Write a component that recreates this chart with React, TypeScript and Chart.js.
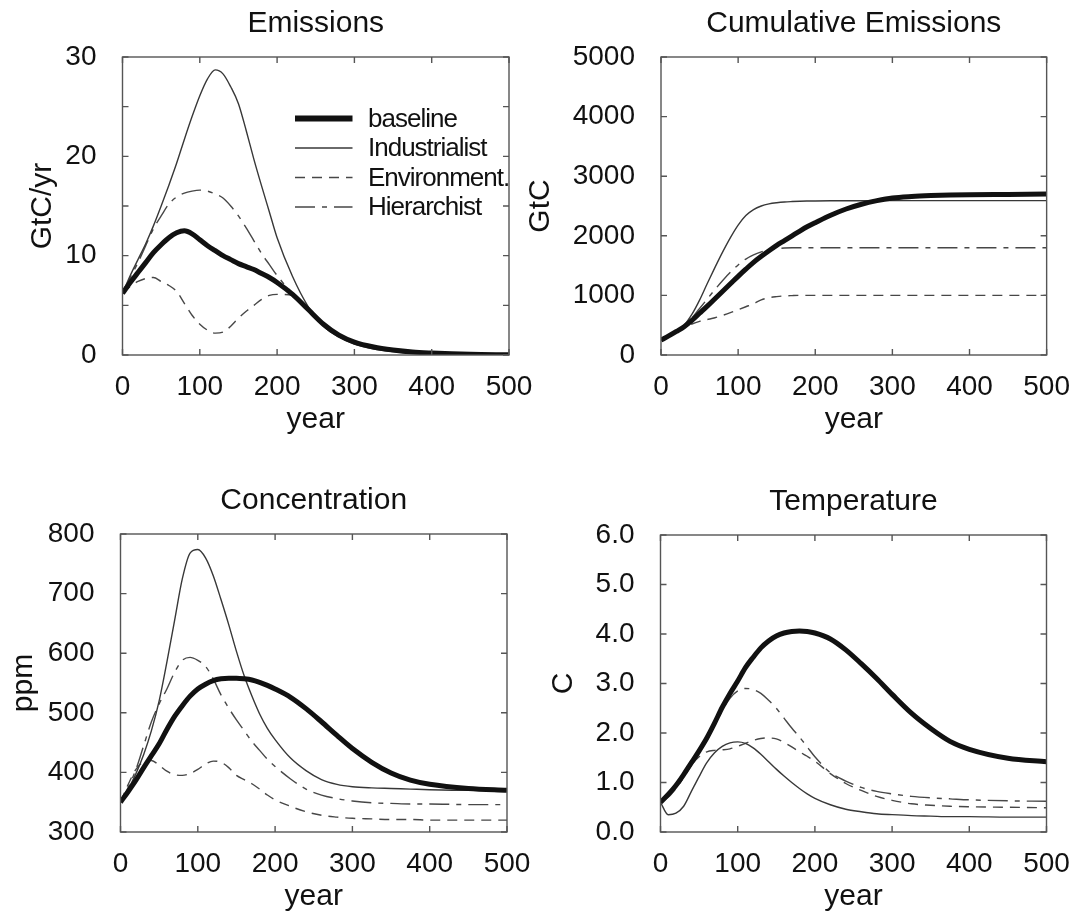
import React, { useEffect, useRef } from 'react';
import { Chart, registerables } from 'chart.js';

Chart.register(...registerables);

const FONT = "'Liberation Sans', Arial, Helvetica, sans-serif";
const W = 1077;
const H = 917;

const YEARS = [0, 10, 20, 30, 40, 50, 60, 70, 80, 90, 100, 110, 120, 130, 140, 150, 160, 170, 180, 190, 200, 220, 240, 260, 280, 300, 325, 350, 375, 400, 450, 500];
const SERIES_LABELS = ['baseline', 'Industrialist', 'Environment.', 'Hierarchist'];
const X_TICKS = [0, 100, 200, 300, 400, 500];

// Emissions (GtC/yr)
const EMIS_BASE = [6.2, 7.3, 8.3, 9.3, 10.3, 11.1, 11.8, 12.3, 12.5, 12.2, 11.6, 11.0, 10.5, 10.0, 9.6, 9.2, 8.9, 8.6, 8.2, 7.8, 7.3, 6.1, 4.6, 3.1, 2.0, 1.3, 0.8, 0.5, 0.3, 0.2, 0.07, 0.02];
const EMIS_IND = [6.2, 8.0, 9.6, 11.2, 13.0, 15.0, 17.1, 19.3, 21.7, 24.0, 26.1, 27.8, 28.7, 28.3, 27.0, 25.3, 22.6, 19.7, 17.0, 14.4, 11.8, 7.9, 4.9, 2.9, 1.8, 1.1, 0.6, 0.35, 0.2, 0.12, 0.05, 0.02];
const EMIS_ENV = [6.2, 6.9, 7.4, 7.7, 7.8, 7.4, 7.0, 6.4, 5.2, 4.0, 3.1, 2.5, 2.2, 2.3, 2.9, 3.7, 4.4, 5.0, 5.6, 6.0, 6.1, 6.0, 4.6, 3.1, 2.0, 1.3, 0.8, 0.5, 0.3, 0.2, 0.07, 0.02];
const EMIS_HIER = [6.2, 7.8, 9.3, 11.0, 12.7, 14.0, 15.2, 15.9, 16.3, 16.5, 16.6, 16.5, 16.2, 15.8, 15.0, 14.0, 12.8, 11.5, 10.2, 9.1, 8.0, 6.2, 4.7, 3.2, 2.1, 1.35, 0.85, 0.5, 0.3, 0.2, 0.07, 0.02];

// Cumulative emissions (GtC)
const CUM_BASE = [250, 320, 395, 475, 580, 700, 820, 945, 1070, 1195, 1320, 1440, 1555, 1655, 1750, 1840, 1920, 2000, 2080, 2155, 2220, 2345, 2450, 2530, 2590, 2635, 2660, 2675, 2685, 2690, 2695, 2700];
const CUM_IND = [250, 320, 400, 500, 680, 920, 1200, 1470, 1730, 1970, 2180, 2340, 2440, 2500, 2535, 2555, 2568, 2575, 2580, 2583, 2585, 2587, 2588, 2589, 2590, 2590, 2590, 2590, 2590, 2590, 2590, 2590];
const CUM_ENV = [250, 320, 390, 460, 520, 565, 595, 625, 665, 710, 760, 810, 860, 925, 962, 980, 992, 997, 1000, 1000, 1000, 1000, 1000, 1000, 1000, 1000, 1000, 1000, 1000, 1000, 1000, 1000];
const CUM_HIER = [250, 320, 400, 490, 620, 780, 940, 1100, 1250, 1390, 1510, 1610, 1680, 1730, 1765, 1785, 1795, 1800, 1800, 1800, 1800, 1800, 1800, 1800, 1800, 1800, 1800, 1800, 1800, 1800, 1800, 1800];

// Concentration (ppm)
const CONC_BASE = [350, 368, 387, 408, 428, 448, 472, 494, 512, 528, 540, 548, 554, 557, 558, 558, 557, 555, 551, 546, 540, 526, 507, 485, 462, 440, 417, 399, 387, 380, 373, 370];
const CONC_IND = [350, 372, 398, 430, 470, 520, 585, 655, 725, 768, 774, 760, 730, 690, 648, 603, 562, 528, 498, 474, 455, 424, 403, 388, 380, 376, 374, 373, 372, 371, 370, 370];
const CONC_ENV = [350, 380, 405, 418, 420, 412, 402, 396, 395, 398, 405, 414, 419, 417, 408, 395, 388, 381, 372, 362, 354, 343, 334, 328, 325, 323, 322, 321, 321, 320, 320, 320];
const CONC_HIER = [350, 375, 405, 445, 485, 515, 540, 568, 588, 593, 588, 578, 557, 530, 508, 488, 470, 452, 437, 422, 410, 389, 372, 362, 356, 352, 349, 348, 347, 347, 346, 346];

// Temperature (C)
const TEMP_BASE = [0.6, 0.76, 0.94, 1.16, 1.4, 1.64, 1.9, 2.2, 2.52, 2.8, 3.05, 3.32, 3.53, 3.72, 3.86, 3.96, 4.02, 4.05, 4.06, 4.05, 4.02, 3.9, 3.68, 3.4, 3.1, 2.78, 2.4, 2.09, 1.83, 1.67, 1.49, 1.42];
const TEMP_IND = [0.6, 0.35, 0.38, 0.52, 0.82, 1.12, 1.4, 1.6, 1.73, 1.8, 1.82, 1.79, 1.7, 1.57, 1.42, 1.27, 1.13, 1.0, 0.88, 0.77, 0.68, 0.55, 0.46, 0.41, 0.37, 0.35, 0.33, 0.32, 0.31, 0.31, 0.3, 0.3];
const TEMP_ENV = [0.6, 0.75, 0.92, 1.12, 1.35, 1.52, 1.62, 1.65, 1.66, 1.68, 1.73, 1.79, 1.85, 1.89, 1.9, 1.88, 1.81, 1.72, 1.62, 1.53, 1.43, 1.18, 0.98, 0.84, 0.72, 0.64, 0.57, 0.54, 0.52, 0.51, 0.5, 0.49];
const TEMP_HIER = [0.6, 0.7, 0.88, 1.1, 1.35, 1.6, 1.85, 2.15, 2.45, 2.7, 2.85, 2.9, 2.88, 2.8, 2.66, 2.5, 2.3, 2.1, 1.92, 1.72, 1.52, 1.2, 1.03, 0.9, 0.82, 0.77, 0.72, 0.69, 0.67, 0.65, 0.63, 0.62];

const STYLES = [
  { color: '#111111', width: 5, dash: [] as number[], legendWidth: 6 },
  { color: '#383838', width: 1.4, dash: [] as number[], legendWidth: 1.4 },
  { color: '#474747', width: 1.4, dash: [10, 7], legendWidth: 1.4 },
  { color: '#474747', width: 1.4, dash: [20, 7, 5, 7], legendWidth: 1.4 },
];

type Panel = {
  title: string;
  yLabel: string;
  series: number[][];
  yMin: number;
  yMax: number;
  yStep: number;
  labelEvery: number;
  decimals: number;
  L: number;
  T: number;
  R: number;
  B: number;
  yLabelOffset: number;
  legend: boolean;
};

const PANELS: Panel[] = [
  { title: 'Emissions', yLabel: 'GtC/yr', series: [EMIS_BASE, EMIS_IND, EMIS_ENV, EMIS_HIER], yMin: 0, yMax: 30, yStep: 5, labelEvery: 10, decimals: 0, L: 122.5, T: 57, R: 509, B: 355, yLabelOffset: 79.5, legend: true },
  { title: 'Cumulative Emissions', yLabel: 'GtC', series: [CUM_BASE, CUM_IND, CUM_ENV, CUM_HIER], yMin: 0, yMax: 5000, yStep: 1000, labelEvery: 1000, decimals: 0, L: 661, T: 57, R: 1047.5, B: 355, yLabelOffset: 120, legend: false },
  { title: 'Concentration', yLabel: 'ppm', series: [CONC_BASE, CONC_IND, CONC_ENV, CONC_HIER], yMin: 300, yMax: 800, yStep: 100, labelEvery: 100, decimals: 0, L: 120.5, T: 534, R: 507, B: 832, yLabelOffset: 96.5, legend: false },
  { title: 'Temperature', yLabel: 'C', series: [TEMP_BASE, TEMP_IND, TEMP_ENV, TEMP_HIER], yMin: 0, yMax: 6, yStep: 1, labelEvery: 1, decimals: 1, L: 660.5, T: 535, R: 1046.5, B: 832, yLabelOffset: 96.5, legend: false },
];

function makeDecor(p: Panel) {
  return {
    id: 'decor',
    afterDraw(chart: any) {
      const { ctx, chartArea } = chart;
      const { left, top, right, bottom } = chartArea;
      const xs = chart.scales.x;
      const ys = chart.scales.y;
      ctx.save();
      ctx.setLineDash([]);
      ctx.strokeStyle = '#555';
      ctx.lineWidth = 1.4;
      ctx.strokeRect(left, top, right - left, bottom - top);
      const tl = 6;
      ctx.beginPath();
      xs.ticks.forEach((t: any) => {
        const px = xs.getPixelForValue(t.value);
        ctx.moveTo(px, bottom);
        ctx.lineTo(px, bottom - tl);
        ctx.moveTo(px, top);
        ctx.lineTo(px, top + tl);
      });
      ys.ticks.forEach((t: any) => {
        const py = ys.getPixelForValue(t.value);
        ctx.moveTo(left, py);
        ctx.lineTo(left + tl, py);
        ctx.moveTo(right, py);
        ctx.lineTo(right - tl, py);
      });
      ctx.stroke();

      ctx.fillStyle = '#111';
      ctx.font = `30px ${FONT}`;
      ctx.textAlign = 'center';
      ctx.textBaseline = 'alphabetic';
      const cx = (left + right) / 2;
      ctx.fillText(p.title, cx, top - 25);
      ctx.fillText('year', cx, bottom + 73);
      ctx.save();
      ctx.translate(left - p.yLabelOffset, (top + bottom) / 2);
      ctx.rotate(-Math.PI / 2);
      ctx.textBaseline = 'middle';
      ctx.fillText(p.yLabel, 0, 0);
      ctx.restore();

      if (p.legend) {
        ctx.font = `26px ${FONT}`;
        try { (ctx as any).letterSpacing = '-1px'; } catch (e) { /* ignore */ }
        ctx.textAlign = 'left';
        ctx.textBaseline = 'middle';
        SERIES_LABELS.forEach((label, i) => {
          const y = top + 61.5 + i * 29.5;
          const s = STYLES[i];
          ctx.beginPath();
          ctx.strokeStyle = s.color;
          ctx.lineWidth = s.legendWidth;
          ctx.setLineDash(s.dash);
          ctx.moveTo(left + 172.5, y);
          ctx.lineTo(left + 230, y);
          ctx.stroke();
          ctx.setLineDash([]);
          ctx.fillStyle = '#111';
          ctx.fillText(label, left + 245.5, y + 1);
        });
      }
      ctx.restore();
    },
  };
}

function PanelChart({ p }: { p: Panel }) {
  const ref = useRef<HTMLCanvasElement>(null);
  useEffect(() => {
    if (!ref.current) return;
    const chart = new Chart(ref.current, {
      type: 'line',
      data: {
        datasets: SERIES_LABELS.map((label, i) => ({
          label,
          data: YEARS.map((x, j) => ({ x, y: p.series[i][j] })),
          borderColor: STYLES[i].color,
          borderWidth: STYLES[i].width,
          borderDash: STYLES[i].dash,
          borderCapStyle: 'butt' as const,
          pointRadius: 0,
          fill: false,
          cubicInterpolationMode: 'monotone' as const,
        })),
      },
      options: {
        responsive: false,
        animation: false,
        events: [],
        layout: { padding: { left: 0, top: p.T, right: W - p.R, bottom: 0 } },
        plugins: {
          legend: { display: false },
          title: { display: false },
          tooltip: { enabled: false },
        },
        scales: {
          x: {
            type: 'linear',
            min: 0,
            max: 500,
            afterBuildTicks: (s: any) => { s.ticks = X_TICKS.map((v) => ({ value: v })); },
            ticks: { font: { family: FONT, size: 28 }, color: '#111', padding: 7, maxRotation: 0, autoSkip: false },
            grid: { display: false },
            border: { display: false },
            afterFit: (s: any) => { s.height = H - p.B; },
          },
          y: {
            type: 'linear',
            min: p.yMin,
            max: p.yMax,
            ticks: {
              stepSize: p.yStep,
              autoSkip: false,
              font: { family: FONT, size: 28 },
              color: '#111',
              padding: 18,
              callback: (v: any) => {
                const n = Number(v);
                const r = Math.round((n - p.yMin) / p.labelEvery * 1000) / 1000;
                if (Math.abs(r - Math.round(r)) > 1e-6) return '';
                return n.toFixed(p.decimals);
              },
            },
            grid: { display: false },
            border: { display: false },
            afterFit: (s: any) => { s.width = p.L; },
          },
        },
      },
      plugins: [makeDecor(p)],
    } as any);
    return () => chart.destroy();
  }, [p]);
  return (
    <canvas
      ref={ref}
      width={W}
      height={H}
      style={{ position: 'absolute', left: 0, top: 0, width: W, height: H }}
    />
  );
}

export default function App() {
  return (
    <div style={{ position: 'absolute', left: 0, top: 0, width: W, height: H, background: '#fff', overflow: 'hidden' }}>
      {PANELS.map((p, i) => (
        <PanelChart key={i} p={p} />
      ))}
    </div>
  );
}
